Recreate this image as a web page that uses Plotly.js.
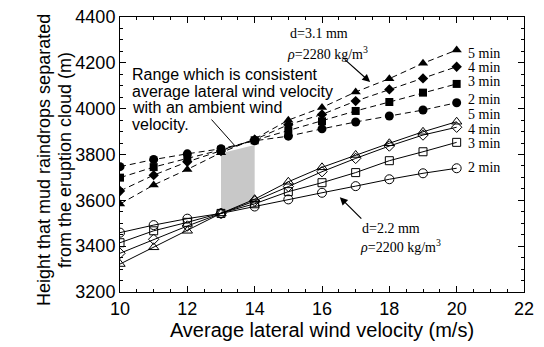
<!DOCTYPE html>
<html><head><meta charset="utf-8">
<script src="https://cdn.plot.ly/plotly-3.0.1.min.js"></script>
<style>body{margin:0;background:#fff}#c{width:544px;height:347px}</style>
</head><body><div id="c"></div>
<script>
const windSpeed = [10,11,12,13,14,15,16,17,18,19,20];
// d=3.1 mm, rho=2280 (dashed, filled)
const big5 = [3584,3667,3735,3808,3868,3950,4005,4073,4131,4198,4256];
const big4 = [3641,3710,3768,3815,3865,3930,3975,4033,4084,4132,4183];
const big3 = [3699,3745,3783,3820,3862,3905,3945,3990,4029,4070,4108];
const big2 = [3747,3778,3803,3825,3860,3880,3912,3942,3968,3994,4026];
// d=2.2 mm, rho=2200 (solid, open)
const small5 = [3322,3395,3467,3543,3605,3681,3744,3798,3849,3899,3943];
const small4 = [3369,3430,3488,3543,3597,3660,3725,3783,3837,3885,3919];
const small3 = [3415,3467,3504,3543,3585,3638,3677,3721,3773,3812,3853];
const small2 = [3459,3492,3520,3543,3573,3604,3633,3662,3692,3718,3740];
const rangeX = [13,14,14,13,13];
const rangeY = [3806,3841,3593,3545,3806];
const minLabels = ['5 min','4 min','3 min','2 min'];
const bigLabelY = [4240,4178,4120,4042];
const smallLabelY = [3973,3908,3850,3745];
const rangeText = ['Range which is consistent','average lateral wind velocity','with an ambient wind','velocity.'];
const rangeTextY = [4151,4077,4003,3929];

const traces = [];
traces.push({x:rangeX,y:rangeY,mode:'lines',fill:'toself',fillcolor:'#c8c8c8',line:{width:0,color:'#c8c8c8'},hoverinfo:'skip'});
const bigSeries=[[big5,'triangle-up',9],[big4,'diamond',8],[big3,'square',8],[big2,'circle',9]];
bigSeries.forEach(([ys,sym,sz])=>traces.push({x:windSpeed,y:ys,mode:'lines+markers',line:{color:'#000',width:1,dash:'6px,4px'},marker:{symbol:sym,size:sz,color:'#000'}}));
const smallSeries=[[small5,'triangle-up-open',9],[small4,'diamond-open',8],[small3,'square-open',8],[small2,'circle-open',9]];
smallSeries.forEach(([ys,sym,sz])=>traces.push({x:windSpeed,y:ys,mode:'lines+markers',line:{color:'#000',width:1},marker:{symbol:sym,size:sz,color:'#000',line:{width:1,color:'#000'}}}));

const serif = {family:'Liberation Serif, Times New Roman, serif',size:14,color:'#000'};
const sans = {family:'Liberation Sans, Arial, sans-serif',size:16,color:'#000'};
const ann = [];
minLabels.forEach((t,i)=>{
  ann.push({x:20.3,y:bigLabelY[i],xref:'x',yref:'y',text:t,showarrow:false,xanchor:'left',yanchor:'middle',font:serif,borderpad:0});
  ann.push({x:20.3,y:smallLabelY[i],xref:'x',yref:'y',text:t,showarrow:false,xanchor:'left',yanchor:'middle',font:serif,borderpad:0});
});
rangeText.forEach((t,i)=>ann.push({x:10.3,y:rangeTextY[i],xref:'x',yref:'y',text:t,showarrow:false,xanchor:'left',yanchor:'middle',font:sans}));
ann.push({x:14.99,y:4330,xref:'x',yref:'y',text:'d=3.1 mm',showarrow:false,xanchor:'left',yanchor:'middle',font:serif});
ann.push({x:14.9,y:4243,xref:'x',yref:'y',text:'<i>ρ</i>=2280 kg/m<sup>3</sup>',showarrow:false,xanchor:'left',yanchor:'middle',font:serif});
ann.push({x:17.13,y:3479,xref:'x',yref:'y',text:'d=2.2 mm',showarrow:false,xanchor:'left',yanchor:'middle',font:serif});
ann.push({x:17.07,y:3401,xref:'x',yref:'y',text:'<i>ρ</i>=2200 kg/m<sup>3</sup>',showarrow:false,xanchor:'left',yanchor:'middle',font:serif});
ann.push({x:17.43,y:4116,xref:'x',yref:'y',text:'',showarrow:true,ax:-27,ay:-24,arrowhead:2,arrowsize:1.3,arrowwidth:1.2,arrowcolor:'#000'});
ann.push({x:16.53,y:3614,xref:'x',yref:'y',text:'',showarrow:true,ax:23,ay:23,arrowhead:2,arrowsize:1.3,arrowwidth:1.2,arrowcolor:'#000'});
ann.push({x:13.42,y:3837,xref:'x',yref:'y',text:'',showarrow:true,ax:-25,ay:-28,arrowhead:0,arrowwidth:1,arrowcolor:'#000'});
// y axis title as two lines
ann.push({x:32,y:160,xref:'paper',yref:'paper',text:'Height that mud raindrops separated',showarrow:false,textangle:-90,font:{family:'Liberation Sans, Arial, sans-serif',size:18,color:'#000'}});
ann.push({x:53,y:160,xref:'paper',yref:'paper',text:'from the eruption cloud (m)',showarrow:false,textangle:-90,font:{family:'Liberation Sans, Arial, sans-serif',size:18,color:'#000'}});

// convert pixel-positioned title annotations to paper coords
const W=544,H=347,L=120,R=20,T=17,B=55;
ann.forEach(a=>{ if(a.xref==='paper'){ a.x=(a.x-L)/(W-L-R); a.y=(H-B-a.y)/(H-T-B); } });

const axisCommon = {showline:true,linecolor:'#000',linewidth:1,mirror:'allticks',ticks:'inside',ticklen:6,tickcolor:'#000',showgrid:false,zeroline:false,
  tickfont:{family:'Liberation Sans, Arial, sans-serif',size:18,color:'#000'}};
const layout = {
  width:W,height:H,margin:{l:L,r:R,t:T,b:B},paper_bgcolor:'#fff',plot_bgcolor:'#fff',showlegend:false,
  xaxis:Object.assign({},axisCommon,{range:[10,22],tickvals:[10,12,14,16,18,20,22],ticktext:['10','12','14','16','18','20','22'],
    minor:{dtick:0.5,tick0:10,ticks:'inside',ticklen:3,tickcolor:'#000'},
    title:{text:'Average lateral wind velocity (m/s)',font:{family:'Liberation Sans, Arial, sans-serif',size:20,color:'#000'},standoff:2}}),
  yaxis:Object.assign({},axisCommon,{range:[3200,4400],tickvals:[3200,3400,3600,3800,4000,4200,4400],ticktext:['3200','3400','3600','3800','4000','4200','4400'],
    minor:{dtick:50,tick0:3200,ticks:'inside',ticklen:3,tickcolor:'#000'}}),
  annotations:ann
};
Plotly.newPlot('c',traces,layout,{staticPlot:true,displayModeBar:false});
</script></body></html>
